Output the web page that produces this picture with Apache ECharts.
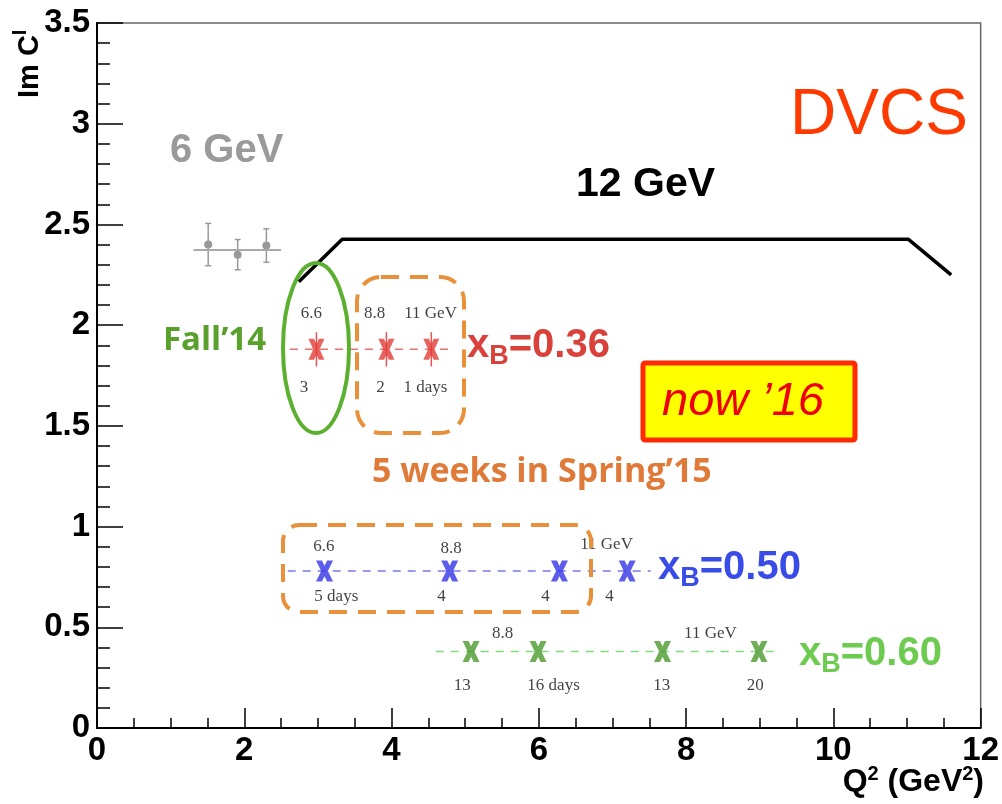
<!DOCTYPE html>
<html>
<head>
<meta charset="utf-8">
<script src="https://cdn.jsdelivr.net/npm/echarts@6/dist/echarts.min.js"></script>
<style>
  html, body { margin: 0; padding: 0; background: #fff; }
  #chart { width: 1002px; height: 804px; }
</style>
</head>
<body>
<div id="chart"></div>
<script>
// 6 GeV measurements
var sixX = [1.51, 1.91, 2.30];
var sixY = [2.40, 2.35, 2.395];
var sixErr = [0.105, 0.075, 0.083];
var sixBand = [[1.31, 2.373], [2.50, 2.373]];

// 12 GeV reach
var reachX = [2.74, 3.33, 11.02, 11.6];
var reachY = [2.215, 2.426, 2.426, 2.25];

// projected points per xB
var redX = [2.98, 3.93, 4.54];
var redY = 1.88;
var redErr = 0.085;
var redSpan = [2.62, 4.81];

var blueX = [3.09, 4.79, 6.28, 7.2];
var blueY = 0.78;
var blueSpan = [2.59, 7.52];

var greenX = [5.08, 5.99, 7.68, 8.99];
var greenY = 0.38;
var greenSpan = [4.6, 9.25];

// beam energy / days notes, [x, y, text]
var redNotes = [[2.91, 2.06, '6.6'], [3.77, 2.06, '8.8'], [4.53, 2.06, '11 GeV'],
                [2.81, 1.69, '3'], [3.85, 1.69, '2'], [4.46, 1.69, '1 days']];
var blueNotes = [[3.08, 0.90, '6.6'], [4.81, 0.89, '8.8'], [6.92, 0.91, '11 GeV'],
                 [3.25, 0.655, '5 days'], [4.68, 0.655, '4'], [6.09, 0.655, '4'], [6.96, 0.655, '4']];
var greenNotes = [[5.51, 0.47, '8.8'], [8.33, 0.47, '11 GeV'],
                  [4.96, 0.21, '13'], [6.2, 0.21, '16 days'], [7.67, 0.21, '13'], [8.94, 0.21, '20']];

var xMark = 'path://M0,0 H7 L10,6 L13,0 H20 L14,12 L20,24 H13 L10,18 L7,24 H0 L6,12 Z';

function pts(xs, y) {
  return xs.map(function (x) { return [x, y]; });
}

function noteSeries(notes) {
  return {
    type: 'scatter',
    symbolSize: 1,
    itemStyle: { color: 'rgba(0,0,0,0)' },
    silent: true,
    z: 5,
    data: notes.map(function (n) { return { value: [n[0], n[1]], name: n[2] }; }),
    label: {
      show: true,
      position: 'inside',
      formatter: '{b}',
      color: '#111',
      fontFamily: 'Liberation Serif',
      fontSize: 17
    }
  };
}

function dashSeries(span, y, color) {
  return {
    type: 'line',
    symbol: 'none',
    silent: true,
    data: [[span[0], y], [span[1], y]],
    lineStyle: { color: color, width: 1.5, type: [8, 7] }
  };
}

function markSeries(xs, y, color, size) {
  return {
    type: 'scatter',
    symbol: xMark,
    symbolSize: size,
    z: 4,
    data: pts(xs, y),
    itemStyle: { color: color }
  };
}

function xbText(x, y, val, color) {
  return {
    type: 'text',
    left: x,
    top: y - 26,
    z: 10,
    style: {
      text: '{m|x}{s|B}{m|=' + val + '}',
      rich: {
        m: { fontSize: 40, fontWeight: 'bold', fontFamily: 'Liberation Sans', fill: color },
        s: { fontSize: 27, fontWeight: 'bold', fontFamily: 'Liberation Sans', fill: color, padding: [22, 0, 0, 0] }
      }
    }
  };
}

var dom = document.getElementById('chart');
var myChart = echarts.init(dom);

var option = {
  animation: false,
  textStyle: { fontFamily: 'Liberation Sans' },
  grid: {
    left: 97, right: 19, top: 23, bottom: 76,
    show: true,
    borderColor: '#666',
    borderWidth: 1.5
  },
  xAxis: {
    type: 'value',
    min: 0, max: 12, interval: 2,
    axisLine: { lineStyle: { color: '#000', width: 2 } },
    axisTick: { inside: true, length: 20, lineStyle: { color: '#000', width: 1.5 } },
    minorTick: { show: true, splitNumber: 4, length: 10, lineStyle: { color: '#000', width: 1.5 } },
    splitLine: { show: false },
    axisLabel: { color: '#000', fontSize: 33, fontWeight: 'bold', margin: 6 }
  },
  yAxis: {
    type: 'value',
    min: 0, max: 3.5, interval: 0.5,
    axisLine: { lineStyle: { color: '#000', width: 2 } },
    axisTick: { inside: true, length: 26, lineStyle: { color: '#000', width: 1.5 } },
    minorTick: { show: true, splitNumber: 5, length: 13, lineStyle: { color: '#000', width: 1.5 } },
    splitLine: { show: false },
    axisLabel: { color: '#000', fontSize: 33, fontWeight: 'bold', margin: 7 }
  },
  series: [
    {
      // 6 GeV horizontal band line
      type: 'line',
      symbol: 'none',
      data: sixBand,
      lineStyle: { color: '#aaa', width: 2 }
    },
    {
      type: 'custom',
      z: 3,
      data: sixX.map(function (x, i) { return [x, sixY[i], sixErr[i]]; }),
      renderItem: function (params, api) {
        var c = api.coord([api.value(0), api.value(1)]);
        var t = api.coord([api.value(0), api.value(1) + api.value(2)]);
        var b = api.coord([api.value(0), api.value(1) - api.value(2)]);
        var st = { stroke: '#999', lineWidth: 1.5 };
        return {
          type: 'group',
          children: [
            { type: 'line', shape: { x1: c[0], y1: t[1], x2: c[0], y2: b[1] }, style: st },
            { type: 'line', shape: { x1: c[0] - 3, y1: t[1], x2: c[0] + 3, y2: t[1] }, style: st },
            { type: 'line', shape: { x1: c[0] - 3, y1: b[1], x2: c[0] + 3, y2: b[1] }, style: st },
            { type: 'circle', shape: { cx: c[0], cy: c[1], r: 4 }, style: { fill: '#999' } }
          ]
        };
      }
    },
    {
      // 12 GeV coverage
      type: 'line',
      symbol: 'none',
      data: reachX.map(function (x, i) { return [x, reachY[i]]; }),
      lineStyle: { color: '#000', width: 3.5 }
    },
    dashSeries(redSpan, redY, '#e57373'),
    dashSeries(blueSpan, blueY, '#7a7af0'),
    dashSeries(greenSpan, greenY, '#7fdc7f'),
    {
      type: 'custom',
      z: 3,
      data: pts(redX, redY),
      renderItem: function (params, api) {
        var t = api.coord([api.value(0), api.value(1) + redErr]);
        var b = api.coord([api.value(0), api.value(1) - redErr]);
        return {
          type: 'line',
          shape: { x1: t[0], y1: t[1], x2: b[0], y2: b[1] },
          style: { stroke: '#e05555', lineWidth: 1.5 }
        };
      }
    },
    markSeries(redX, redY, '#e23b36', [16, 21]),
    markSeries(blueX, blueY, '#3434e6', [17, 21]),
    markSeries(greenX, greenY, '#4a9a2c', [17, 21]),
    noteSeries(redNotes),
    noteSeries(blueNotes),
    noteSeries(greenNotes)
  ],
  graphic: [
    {
      type: 'text', x: 50, y: 98, rotation: Math.PI / 2, z: 10,
      style: {
        text: 'Im C{s|I}',
        x: 0, y: 0, align: 'left', verticalAlign: 'bottom',
        fontSize: 29, fontWeight: 'bold', fontFamily: 'Liberation Sans', fill: '#000',
        rich: { s: { fontSize: 20, fontWeight: 'bold', fontFamily: 'Liberation Sans', fill: '#000', padding: [0, 0, 20, 0] } }
      }
    },
    {
      type: 'text', right: 18, top: 764, z: 10,
      style: {
        text: 'Q{s|2} (GeV{s|2})',
        fontSize: 32, fontWeight: 'bold', fontFamily: 'Liberation Sans', fill: '#000',
        rich: { s: { fontSize: 20, fontWeight: 'bold', fontFamily: 'Liberation Sans', fill: '#000', padding: [0, 0, 16, 0] } }
      }
    },
    {
      type: 'text', left: 170, top: 131, z: 10,
      style: { text: '6 GeV', fontSize: 40, fontWeight: 'bold', fontFamily: 'Liberation Sans', fill: '#9a9a9a' }
    },
    {
      type: 'text', left: 576, top: 164, z: 10,
      style: { text: '12 GeV', fontSize: 41, fontWeight: 'bold', fontFamily: 'Liberation Sans', fill: '#000' }
    },
    {
      type: 'text', left: 790, top: 84, z: 10,
      style: { text: 'DVCS', fontSize: 64, fontFamily: 'Liberation Sans', fill: '#ff3a00' }
    },
    {
      type: 'text', left: 163, top: 324, z: 10,
      style: { text: 'Fall\u201914', fontSize: 33, fontWeight: 'bold', fontFamily: 'Open Sans', fill: '#5aa02c' }
    },
    {
      type: 'text', left: 372, top: 455, z: 10,
      style: { text: '5 weeks in Spring\u201915', fontSize: 34, fontWeight: 'bold', fontFamily: 'Open Sans', fill: '#e07a38' }
    },
    xbText(467, 352, '0.36', '#d9413a'),
    xbText(658, 574, '0.50', '#3a4ce8'),
    xbText(799, 660, '0.60', '#6dcc50'),
    {
      type: 'ellipse', z: 9,
      shape: { cx: 316, cy: 348, rx: 33, ry: 85 },
      style: { fill: 'none', stroke: '#5cb030', lineWidth: 4 }
    },
    {
      type: 'rect', z: 9,
      shape: { x: 357, y: 277, width: 107, height: 156, r: 24 },
      style: { fill: 'none', stroke: '#e8913a', lineWidth: 4, lineDash: [18, 11] }
    },
    {
      type: 'rect', z: 9,
      shape: { x: 283, y: 525, width: 308, height: 87, r: 16 },
      style: { fill: 'none', stroke: '#e8913a', lineWidth: 4, lineDash: [18, 11] }
    },
    {
      type: 'rect', z: 9,
      shape: { x: 643, y: 363, width: 212, height: 77, r: 2 },
      style: { fill: '#ffff00', stroke: '#ff2a00', lineWidth: 5 }
    },
    {
      type: 'text', left: 662, top: 378, z: 11,
      style: { text: 'now \u201916', fontSize: 47, fontStyle: 'italic', fontFamily: 'Liberation Sans', fill: '#ee0000' }
    }
  ]
};

if (option && typeof option === "object") {
  myChart.setOption(option, true);
}
</script>
</body>
</html>
